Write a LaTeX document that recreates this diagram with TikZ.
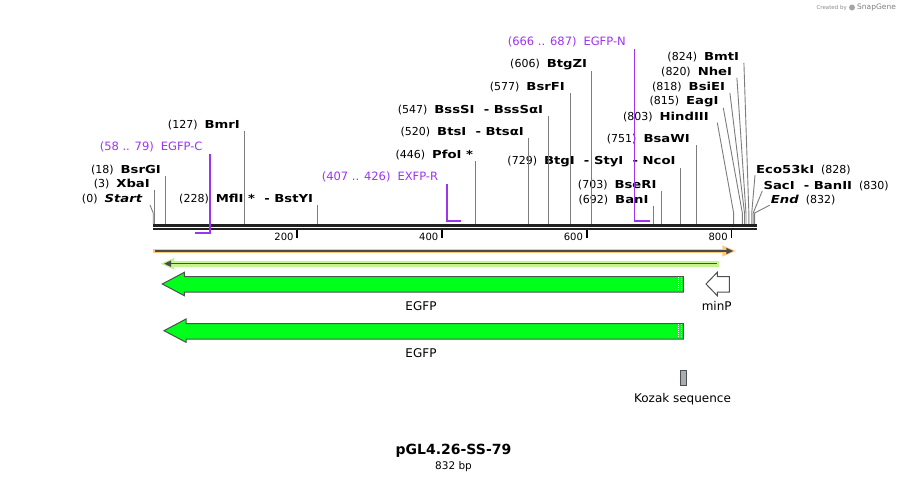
\documentclass[tikz,border=0pt]{standalone}
\usepackage{fontspec}
\setmainfont{DejaVu Sans}
\newfontfamily\enzfont{DejaVu Sans}[FakeStretch=1.2]
\usetikzlibrary{arrows.meta, positioning, calc}

\definecolor{primerpurple}{RGB}{158,52,240}
\definecolor{sitegray}{RGB}{125,125,125}
\definecolor{egfpgreen}{RGB}{0,255,26}
\definecolor{outlinegray}{RGB}{80,80,80}
\definecolor{darkline}{RGB}{75,75,75}
\definecolor{orangeglow}{RGB}{253,200,120}
\definecolor{greenglow}{RGB}{196,245,145}
\definecolor{kozakgray}{RGB}{168,172,180}
\newcommand{\enzsep}{\hspace{7pt}}
\newcommand{\enzb}[1]{{\enzfont\bfseries #1}}

\begin{document}
\begin{tikzpicture}[x=1pt, y=-1pt,
        declare function={px(\p)=152.6+0.7236*\p;}, % posicion en pb -> x
        every node/.style={inner sep=0pt},
        enz/.style={font=\fontsize{11}{13}\selectfont, anchor=east},
        enzr/.style={font=\fontsize{11}{13}\selectfont, anchor=west},
        primerlbl/.style={font=\fontsize{11.5}{13}\selectfont, text=primerpurple, anchor=east},
        site/.style={draw=sitegray, line width=0.9pt, shorten >=1pt},
        primer/.style={draw=primerpurple, line width=1.9pt, line join=miter},
        axisline/.style={draw=black!87, line width=2.4pt},
        tick/.style={draw=black, line width=1.8pt},
        ticklbl/.style={font=\fontsize{10}{12}\selectfont, anchor=east},
        feat/.style={fill=egfpgreen, draw=outlinegray, line width=1pt, line join=miter},
        featlbl/.style={font=\fontsize{12}{14}\selectfont}
    ]
        % --- Fondo y margenes ---
        \fill[white] (0,0) rectangle (910,481);
        \useasboundingbox (0,0) rectangle (910,481);

        % --- Marca de agua ---
        \node[font=\fontsize{5.5}{6}\selectfont, text=black!45, anchor=east] (credit) at (847,7.5) {Created by};
        \fill[black!35] (852,7.5) circle (3pt);
        \node[font=\fontsize{7.5}{8}\selectfont, text=black!50, anchor=west] (snapgene) at (857,7.5) {SnapGene};

        % --- Secuencia (doble linea) ---
        \coordinate (axisL) at (153.3,225.5);
        \coordinate (axisR) at (756.7,225.5);
        \draw[axisline] (axisL) -- (axisR);
        \draw[axisline] ([yshift=-3.4pt]axisL) -- ([yshift=-3.4pt]axisR);

        % --- Escala ---
        \foreach \t in {200,400,600,800} {
            \coordinate (t\t) at ({px(\t)},230);
            \draw[tick] (t\t) -- ++(0,7.5);
            \node[ticklbl] (tl\t) at ([xshift=-3.6pt, yshift=-6.7pt]t\t) {\t};
        }

        % --- Sitios de corte (lado izquierdo) ---
        \node[enz] (Start) at (142.3,199.3) {(0)\enzsep\enzb{\itshape Start}};
        \node[enz] (XbaI) at (150,184.3) {(3)\enzsep\enzb{XbaI}};
        \node[enz] (BsrGI) at (161,170) {(18)\enzsep\enzb{BsrGI}};
        \node[enz] (BmrI) at (240,125) {(127)\enzsep\enzb{BmrI}};
        \node[enz] (MflI) at (313.3,199.3) {(228)\enzsep\enzb{MflI *\ \ -\ BstYI}};
        \node[enz] (PfoI) at (473.3,155) {(446)\enzsep\enzb{PfoI *}};
        \node[enz] (BtsI) at (524,131.7) {(520)\enzsep\enzb{BtsI\ \ -\ BtsαI}};
        \node[enz] (BssSI) at (543.3,110) {(547)\enzsep\enzb{BssSI\ \ -\ BssSαI}};
        \node[enz] (BsrFI) at (565,86.7) {(577)\enzsep\enzb{BsrFI}};
        \node[enz] (BtgZI) at (587.3,64.3) {(606)\enzsep\enzb{BtgZI}};
        \node[enz] (BanI) at (648.7,200) {(692)\enzsep\enzb{BanI}};
        \node[enz] (BseRI) at (656.7,185) {(703)\enzsep\enzb{BseRI}};
        \node[enz] (BtgI) at (675.7,161.7) {(729)\enzsep\enzb{BtgI\ \ -\ StyI\ \ -\ NcoI}};
        \node[enz] (BsaWI) at (690,139.3) {(751)\enzsep\enzb{BsaWI}};
        \node[enz] (HindIII) at (709,117.3) {(803)\enzsep\enzb{HindIII}};
        \node[enz] (EagI) at (718.7,101.7) {(815)\enzsep\enzb{EagI}};
        \node[enz] (BsiEI) at (725.3,86.7) {(818)\enzsep\enzb{BsiEI}};
        \node[enz] (NheI) at (732.3,71.7) {(820)\enzsep\enzb{NheI}};
        \node[enz] (BmtI) at (739.3,56.7) {(824)\enzsep\enzb{BmtI}};

        % --- Sitios de corte (lado derecho) ---
        \node[enzr] (Eco53kI) at (756,170) {\enzb{Eco53kI}\enzsep(828)};
        \node[enzr] (SacI) at (763.3,185.7) {\enzb{SacI\ \ -\ BanII}\enzsep(830)};
        \node[enzr] (End) at (770.7,200) {\enzb{\itshape End}\enzsep(832)};

        % Puntos sobre la secuencia
        \foreach \n/\p in {Start/0, XbaI/3, BsrGI/18, BmrI/127, MflI/228, PfoI/446, BtsI/520,
                           BssSI/547, BsrFI/577, BtgZI/606, BanI/692, BseRI/703, BtgI/729,
                           BsaWI/751, HindIII/803, EagI/815, BsiEI/818, NheI/820, BmtI/824,
                           Eco53kI/828, SacI/830, End/832} {
            \coordinate (c\n) at ({px(\p)},224);
            \coordinate (k\n) at ({px(\p)},213);
        }

        % Lineas verticales
        \foreach \n in {XbaI, BsrGI, BmrI, MflI, PfoI, BtsI, BssSI, BsrFI, BtgZI, BanI, BseRI, BtgI, BsaWI} {
            \draw[site] (c\n) -- (c\n |- \n.south);
        }

        % Lineas inclinadas
        \draw[site, shorten >=0pt] ([shift={(7.7,5.7)}]Start.east) -- ([xshift=0.6pt]kStart) -- ([xshift=0.6pt]cStart);
        \draw[site, shorten >=0pt] ([shift={(8.3,5.4)}]HindIII.east) -- (kHindIII) -- (cHindIII);
        \foreach \n in {EagI, BsiEI, NheI, BmtI} {
            \draw[site, shorten >=0pt] ([shift={(4.6,6.2)}]\n.east) -- (k\n) -- (c\n);
        }
        \foreach \n in {Eco53kI, SacI, End} {
            \draw[site, shorten >=0pt] ([shift={(-1,5.2)}]\n.west) -- (k\n) -- (c\n);
        }

        % --- Cebadores ---
        \node[primerlbl] (EGFPC) at (202.7,146.7) {(58 .. 79)\enzsep EGFP-C};
        \node[primerlbl] (EXFPR) at (438.3,176.7) {(407 .. 426)\enzsep EXFP-R};
        \node[primerlbl] (EGFPN) at (626,42.3) {(666 .. 687)\enzsep EGFP-N};
        \coordinate (pC0) at ({px(58)},233);  \coordinate (pC1) at ({px(79)},233);
        \coordinate (pR0) at ({px(407)},221); \coordinate (pR1) at ({px(426)},221);
        \coordinate (pN0) at ({px(666)},221); \coordinate (pN1) at ({px(687)},221);
        \draw[primer] ([yshift=-1.5pt]pC1 |- EGFPC.south) -- (pC1) -- (pC0);
        \draw[primer] ([yshift=-1.5pt]pR0 |- EXFPR.south) -- (pR0) -- (pR1);
        \draw[primer] ([yshift=-1.5pt]pN0 |- EGFPN.south) -- (pN0) -- (pN1);

        % --- Rasgo naranja (0 -> 800) ---
        \coordinate (oL) at (153.3,251);
        \coordinate (oR) at (733.3,251);
        \draw[orangeglow, line width=4.8pt] (oL) -- ([xshift=-6pt]oR);
        \fill[orangeglow] ([shift={(-11,5.6)}]oR) -- ([xshift=2.5pt]oR) -- ([shift={(-11,-5.6)}]oR) -- cycle;
        \draw[darkline, line width=1.4pt, -{Triangle[length=7pt, width=6pt]}] ([xshift=2pt]oL) -- (oR);

        % --- Rasgo verde claro (hacia la izquierda) ---
        \coordinate (gL) at (163,263.7);
        \coordinate (gR) at (718.7,263.7);
        \draw[greenglow, line width=5.8pt] ([xshift=6pt]gL) -- (gR);
        \fill[greenglow] ([shift={(11,5.8)}]gL) -- ([xshift=-2.5pt]gL) -- ([shift={(11,-5.8)}]gL) -- cycle;
        \draw[darkline, line width=1.4pt, {Triangle[length=7pt, width=6pt]}-] ([xshift=1pt]gL) -- ([xshift=-2pt]gR);

        % --- EGFP (arriba) ---
        \draw[feat] (162.3,284) -- (184.3,272.3) -- (184.3,276.7) -- (683.3,276.7)
            -- (683.3,292) -- (184.3,292) -- (184.3,295.7) -- cycle;
        \draw[white, line width=0.8pt, dash pattern=on 1pt off 1pt] (678.6,277.4) -- (678.6,291.4);
        \draw[white, line width=0.8pt, dash pattern=on 1pt off 1pt] (681.2,277.4) -- (681.2,291.4);
        \node[featlbl] (egfp1) at (421,305.7) {EGFP};

        % --- minP ---
        \draw[fill=white, draw=outlinegray, line width=1pt, line join=miter] (706,284) -- (717.3,272.3)
            -- (717.3,276.7) -- (729.3,276.7) -- (729.3,292) -- (717.3,292) -- (717.3,295.7) -- cycle;
        \node[featlbl] (minP) at (716.7,306) {minP};

        % --- EGFP (abajo) ---
        \draw[feat] (164,330.7) -- (186,319) -- (186,323.7) -- (683.3,323.7)
            -- (683.3,339) -- (186,339) -- (186,342.3) -- cycle;
        \draw[white, line width=0.8pt, dash pattern=on 1pt off 1pt] (678.6,324.4) -- (678.6,338.4);
        \draw[white, line width=0.8pt, dash pattern=on 1pt off 1pt] (681.2,324.4) -- (681.2,338.4);
        \node[featlbl] (egfp2) at (421,352.7) {EGFP};

        % --- Kozak ---
        \draw[fill=kozakgray, draw=outlinegray, line width=1pt] (680.8,370.5) rectangle (686.8,385.5);
        \node[featlbl] (kozak) at (682.5,399.3) {Kozak sequence};

        % --- Titulo ---
        \node[font=\fontsize{14}{16}\selectfont\bfseries] (title) at (453.5,450.7) {pGL4.26-SS-79};
        \node[font=\fontsize{10.5}{12}\selectfont, below=4pt of title] (bp) {832 bp};
    \end{tikzpicture}
\end{document}
